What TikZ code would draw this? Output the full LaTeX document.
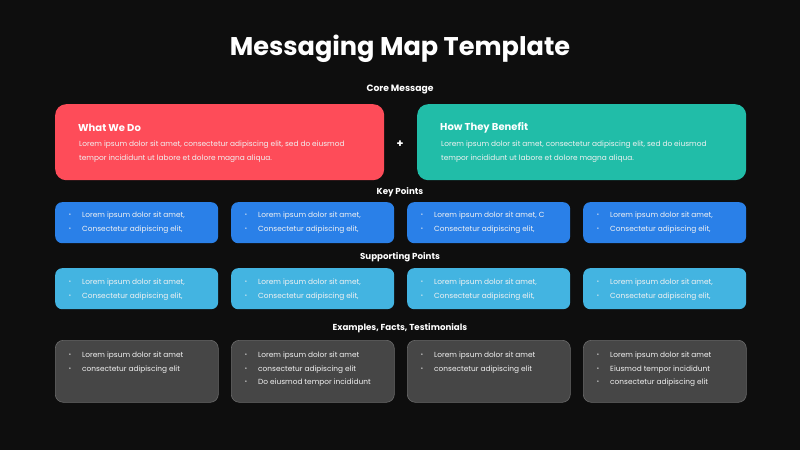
\documentclass[tikz,border=0pt]{standalone}
\usepackage{fontspec}
\setmainfont{Poppins}
\definecolor{bg}{HTML}{0E0E0E}
\definecolor{cred}{HTML}{FE4C59}
\definecolor{cteal}{HTML}{21BDA8}
\definecolor{cblue}{HTML}{2A80E8}
\definecolor{clblue}{HTML}{43B4E1}
\definecolor{cgray}{HTML}{464646}
\definecolor{cgrayb}{HTML}{6A6A6A}
\definecolor{ctxt}{HTML}{F2F2F2}
\tikzset{
  bigbox/.style={rounded corners=11pt, minimum width=329pt, minimum height=76pt, anchor=north west, inner sep=0pt},
  smallbox/.style={rounded corners=7pt, minimum width=163pt, minimum height=41pt, anchor=north west, inner sep=0pt},
  exbox/.style={rounded corners=8pt, minimum width=163pt, minimum height=62pt, anchor=north west, inner sep=0pt, draw=cgrayb, line width=0.6pt, fill=cgray},
  label/.style={text=white, font=\bfseries\fontsize{8.7}{10}\selectfont, inner sep=0pt, yshift=-1.5pt},
  body/.style={text=ctxt, font=\fontsize{7.4}{9}\selectfont, inner sep=0pt, anchor=west, yshift=-1.5pt},
  head/.style={text=white, font=\bfseries\fontsize{10}{12}\selectfont, inner sep=0pt, anchor=west, yshift=-1.5pt},
  bul/.style={text=ctxt, font=\fontsize{5.5}{6}\selectfont, inner sep=0pt, yshift=-1.5pt},
}
\begin{document}
\begin{tikzpicture}[x=1pt,y=-1pt]
\fill[bg] (0,0) rectangle (800,450);
\useasboundingbox (0,0) rectangle (800,450);

\node[text=white, font=\bfseries\fontsize{25.6}{30}\selectfont, inner sep=0pt, yshift=-3pt] (title) at (400,46) {Messaging Map Template};
\node[label, font=\bfseries\fontsize{9.2}{11}\selectfont] (core) at (400,88) {Core Message};

\node[bigbox, fill=cred] (wwd) at (55,104) {};
\node[bigbox, fill=cteal] (htb) at (417,104) {};
\node[head] (wwdh) at (78,126) {What We Do};
\node[body] (wwdt1) at (79,143) {Lorem ipsum dolor sit amet, consectetur adipiscing elit, sed do eiusmod};
\node[body] (wwdt2) at (79,157) {tempor incididunt ut labore et dolore magna aliqua.};
\node[head] (htbh) at (440,126) {How They Benefit};
\node[body] (htbt1) at (441,143) {Lorem ipsum dolor sit amet, consectetur adipiscing elit, sed do eiusmod};
\node[body] (htbt2) at (441,157) {tempor incididunt ut labore et dolore magna aliqua.};
\node[text=white, font=\bfseries\fontsize{11}{12}\selectfont, inner sep=0pt, yshift=-1pt] (plus) at (400,143) {+};

\node[label] (kp) at (400,191) {Key Points};
\node[label] (sp) at (400,256) {Supporting Points};
\node[label] (ex) at (400,327) {Examples, Facts, Testimonials};

% key points
\foreach \i/\x/\a in {1/55/{Lorem ipsum dolor sit amet,}, 2/231/{Lorem ipsum dolor sit amet,}, 3/407/{Lorem ipsum dolor sit amet, C}, 4/583/{Lorem ipsum dolor sit amet,}} {
  \node[smallbox, fill=cblue] (k\i) at (\x,202) {};
  \node[bul] (kb\i a) at (\x+15,214) {•};
  \node[body] (kt\i a) at (\x+27,214) {\a};
  \node[bul] (kb\i b) at (\x+15,228) {•};
  \node[body] (kt\i b) at (\x+27,228) {Consectetur adipiscing elit,};
}
% supporting points
\foreach \i/\x in {1/55, 2/231, 3/407, 4/583} {
  \node[smallbox, fill=clblue] (s\i) at (\x,268) {};
  \node[bul] (sb\i a) at (\x+15,281) {•};
  \node[body] (st\i a) at (\x+27,281) {Lorem ipsum dolor sit amet,};
  \node[bul] (sb\i b) at (\x+15,295) {•};
  \node[body] (st\i b) at (\x+27,295) {Consectetur adipiscing elit,};
}
% examples
\node[exbox] (e1) at (55,340) {};
\node[exbox] (e2) at (231,340) {};
\node[exbox] (e3) at (407,340) {};
\node[exbox] (e4) at (583,340) {};
\foreach \x/\y/\t/\n in {55/354/{Lorem ipsum dolor sit amet}/e1a, 55/368/{consectetur adipiscing elit}/e1b,
  231/354/{Lorem ipsum dolor sit amet}/e2a, 231/368/{consectetur adipiscing elit}/e2b, 231/381/{Do eiusmod tempor incididunt}/e2c,
  407/354/{Lorem ipsum dolor sit amet}/e3a, 407/368/{consectetur adipiscing elit}/e3b,
  583/354/{Lorem ipsum dolor sit amet}/e4a, 583/368/{Eiusmod tempor incididunt}/e4b, 583/381/{consectetur adipiscing elit}/e4c} {
  \node[bul] (\n b) at (\x+15,\y) {•};
  \node[body] (\n t) at (\x+27,\y) {\t};
}
\end{tikzpicture}
\end{document}
